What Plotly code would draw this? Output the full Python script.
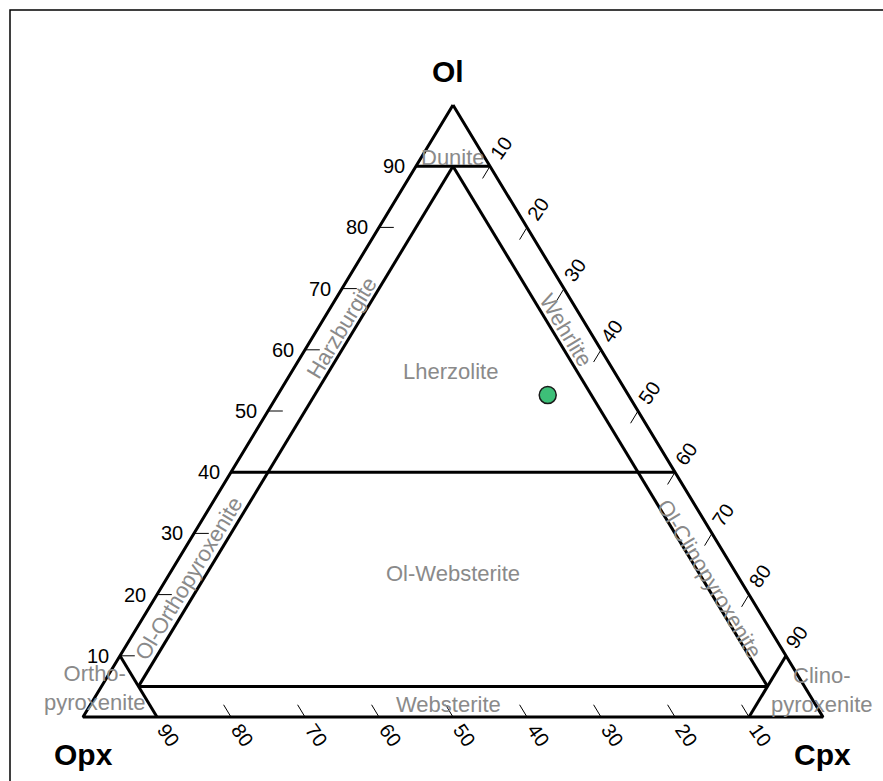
import plotly.graph_objects as go

# ---------------- data ----------------
tick_values = [10, 20, 30, 40, 50, 60, 70, 80, 90]

# classification boundaries, each as (Ol, Opx, Cpx) start and end
seg_ol_start = [100, 90, 40, 5, 90, 90, 10, 10]
seg_opx_start = [0, 10, 60, 90, 5, 5, 90, 0]
seg_cpx_start = [0, 0, 0, 5, 5, 5, 0, 90]
seg_ol_end = [0, 90, 40, 5, 5, 5, 0, 0]
seg_opx_end = [100, 0, 0, 5, 90, 5, 90, 10]
seg_cpx_end = [0, 10, 60, 90, 5, 90, 10, 90]

# sample
sample_ol = [52.6]
sample_opx = [10.9]
sample_cpx = [36.5]

region_names = ["Dunite", "Harzburgite", "Wehrlite", "Lherzolite", "Ol-Websterite",
                "Ol-Orthopyroxenite", "Ol-Clinopyroxenite", "Websterite",
                "Ortho-<br>pyroxenite", "Clino-<br>pyroxenite"]
apex_names = ["Ol", "Opx", "Cpx"]

# ---------------- placement (ternary coords) ----------------
region_ol = [91.5, 63.6, 63.2, 56.4, 23.4, 22.6, 22.6, 2.1, 4.7, 4.4]
region_cpx = [4.25, 3.2, 33.7, 21.4, 38.3, 3.0, 73.3, 48.3, -0.7, 97.7]
region_angle = [0, -58.8, 58.8, 0, 0, -58.8, 58.8, 0, 0, 0]
apex_ol = [105.4, -6.2, -6.2]
apex_cpx = [-3.4, 3.2, 103.0]


def to_xy(ol, cpx):
    return cpx + ol / 2.0, ol


fig = go.Figure()

# outer triangle + boundaries
for i in range(len(seg_ol_start)):
    x0, y0 = to_xy(seg_ol_start[i], seg_cpx_start[i])
    x1, y1 = to_xy(seg_ol_end[i], seg_cpx_end[i])
    xs, ys = [x0, x1], [y0, y1]
    if i == 0:
        xc, yc = to_xy(0, 100)
        xs = [x0, x1, xc, x0]
        ys = [y0, y1, yc, y0]
    fig.add_trace(go.Scatter(x=xs, y=ys, mode="lines",
                             line=dict(color="black", width=3),
                             hoverinfo="skip", showlegend=False))

tick_len = 2.0
lab_off = 3.0
tick_font = dict(size=20, color="black")
ann = []
for v in tick_values:
    # left edge (Ol axis): ticks along constant Ol, toward Cpx
    x0, y0 = to_xy(v, 0)
    x1, y1 = to_xy(v, tick_len)
    fig.add_trace(go.Scatter(x=[x0, x1], y=[y0, y1], mode="lines",
                             line=dict(color="black", width=1),
                             hoverinfo="skip", showlegend=False))
    xl, yl = to_xy(v, -lab_off)
    ann.append(dict(x=xl, y=yl, text=str(v), showarrow=False, font=tick_font))
    # right edge (Cpx axis): Opx = 0, ticks along constant Cpx toward Opx
    x0, y0 = to_xy(100 - v, v)
    x1, y1 = to_xy(100 - v - tick_len, v)
    fig.add_trace(go.Scatter(x=[x0, x1], y=[y0, y1], mode="lines",
                             line=dict(color="black", width=1),
                             hoverinfo="skip", showlegend=False))
    xl, yl = to_xy(100 - v + lab_off, v)
    ann.append(dict(x=xl, y=yl, text=str(v), showarrow=False, textangle=-55,
                    font=tick_font))
    # bottom edge (Opx axis): Ol = 0, ticks along constant Opx toward Ol
    x0, y0 = to_xy(0, 100 - v)
    x1, y1 = to_xy(tick_len, 100 - v - tick_len)
    fig.add_trace(go.Scatter(x=[x0, x1], y=[y0, y1], mode="lines",
                             line=dict(color="black", width=1),
                             hoverinfo="skip", showlegend=False))
    xl, yl = to_xy(-lab_off, 100 - v + lab_off)
    ann.append(dict(x=xl, y=yl, text=str(v), showarrow=False, textangle=55,
                    font=tick_font))

for name, o, c, a in zip(region_names, region_ol, region_cpx, region_angle):
    x, y = to_xy(o, c)
    ann.append(dict(x=x, y=y, text=name, showarrow=False, textangle=a,
                    font=dict(size=22, color="#8a8a8a")))

for name, o, c in zip(apex_names, apex_ol, apex_cpx):
    x, y = to_xy(o, c)
    ann.append(dict(x=x, y=y, text="<b>" + name + "</b>", showarrow=False,
                    font=dict(size=30, color="black")))

sx, sy = zip(*[to_xy(o, c) for o, c in zip(sample_ol, sample_cpx)])
fig.add_trace(go.Scatter(x=list(sx), y=list(sy), mode="markers",
                         marker=dict(size=17, color="#3dbf78",
                                     line=dict(color="#1a1a1a", width=1.5)),
                         customdata=list(zip(sample_ol, sample_opx, sample_cpx)),
                         hovertemplate="Ol %{customdata[0]}<br>Opx %{customdata[1]}<br>Cpx %{customdata[2]}<extra></extra>",
                         showlegend=False))

W, H = 883, 781
px_per_x = 7.4
px_per_y = 6.12
x_lo = -83 / px_per_x
x_hi = x_lo + W / px_per_x
y_hi = 100 + 105 / px_per_y
y_lo = -(H - 717) / px_per_y

fig.update_layout(
    width=W, height=H, autosize=False,
    margin=dict(l=0, r=0, t=0, b=0),
    paper_bgcolor="white", plot_bgcolor="white",
    font=dict(family="Arial, Liberation Sans, sans-serif"),
    xaxis=dict(range=[x_lo, x_hi], visible=False, fixedrange=True),
    yaxis=dict(range=[y_lo, y_hi], visible=False, fixedrange=True),
    annotations=ann,
    shapes=[dict(type="rect", xref="paper", yref="paper",
                 x0=10 / W, x1=1.02, y0=-0.02, y1=1 - 10 / H,
                 line=dict(color="black", width=1.5))],
)

fig.write_html("out.html", config={"displayModeBar": False},
               post_script="document.body.style.margin='0';")
